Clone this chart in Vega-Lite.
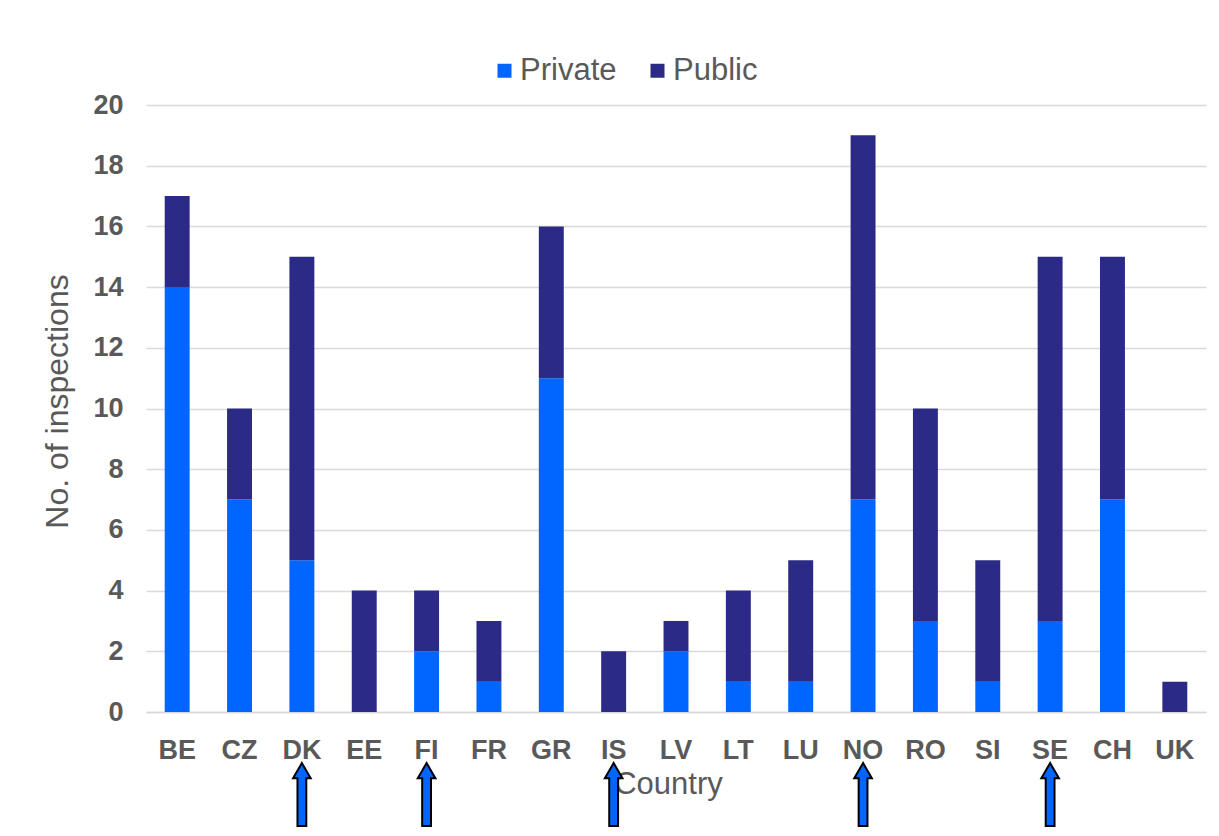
{
  "$schema": "https://vega.github.io/schema/vega-lite/v6.json",
  "width": 1060,
  "height": 607,
  "autosize": {"type": "none"},
  "padding": {"left": 146, "top": 105, "right": 13, "bottom": 124},
  "background": "white",
  "config": {
    "font": "Liberation Sans",
    "view": {"stroke": null}
  },
  "datasets": {
    "inspections": [
      {"Country": "BE", "Sector": "Private", "Inspections": 14},
      {"Country": "BE", "Sector": "Public", "Inspections": 3},
      {"Country": "CZ", "Sector": "Private", "Inspections": 7},
      {"Country": "CZ", "Sector": "Public", "Inspections": 3},
      {"Country": "DK", "Sector": "Private", "Inspections": 5},
      {"Country": "DK", "Sector": "Public", "Inspections": 10},
      {"Country": "EE", "Sector": "Private", "Inspections": 0},
      {"Country": "EE", "Sector": "Public", "Inspections": 4},
      {"Country": "FI", "Sector": "Private", "Inspections": 2},
      {"Country": "FI", "Sector": "Public", "Inspections": 2},
      {"Country": "FR", "Sector": "Private", "Inspections": 1},
      {"Country": "FR", "Sector": "Public", "Inspections": 2},
      {"Country": "GR", "Sector": "Private", "Inspections": 11},
      {"Country": "GR", "Sector": "Public", "Inspections": 5},
      {"Country": "IS", "Sector": "Private", "Inspections": 0},
      {"Country": "IS", "Sector": "Public", "Inspections": 2},
      {"Country": "LV", "Sector": "Private", "Inspections": 2},
      {"Country": "LV", "Sector": "Public", "Inspections": 1},
      {"Country": "LT", "Sector": "Private", "Inspections": 1},
      {"Country": "LT", "Sector": "Public", "Inspections": 3},
      {"Country": "LU", "Sector": "Private", "Inspections": 1},
      {"Country": "LU", "Sector": "Public", "Inspections": 4},
      {"Country": "NO", "Sector": "Private", "Inspections": 7},
      {"Country": "NO", "Sector": "Public", "Inspections": 12},
      {"Country": "RO", "Sector": "Private", "Inspections": 3},
      {"Country": "RO", "Sector": "Public", "Inspections": 7},
      {"Country": "SI", "Sector": "Private", "Inspections": 1},
      {"Country": "SI", "Sector": "Public", "Inspections": 4},
      {"Country": "SE", "Sector": "Private", "Inspections": 3},
      {"Country": "SE", "Sector": "Public", "Inspections": 12},
      {"Country": "CH", "Sector": "Private", "Inspections": 7},
      {"Country": "CH", "Sector": "Public", "Inspections": 8},
      {"Country": "UK", "Sector": "Private", "Inspections": 0},
      {"Country": "UK", "Sector": "Public", "Inspections": 1}
    ],
    "highlighted": [
      {"Country": "DK"},
      {"Country": "FI"},
      {"Country": "IS"},
      {"Country": "NO"},
      {"Country": "SE"}
    ]
  },
  "layer": [
    {
      "data": {"name": "inspections"},
      "mark": {"type": "bar"},
      "encoding": {
        "x": {
          "field": "Country",
          "type": "nominal",
          "scale": {
            "domain": ["BE", "CZ", "DK", "EE", "FI", "FR", "GR", "IS", "LV", "LT", "LU", "NO", "RO", "SI", "SE", "CH", "UK"],
            "paddingInner": 0.6,
            "paddingOuter": 0.3
          },
          "axis": {
            "title": "Country",
            "labelAngle": 0,
            "labelFont": "Liberation Sans",
            "labelFontSize": 27,
            "labelFontWeight": "bold",
            "labelColor": "#595959",
            "labelPadding": 25,
            "ticks": false,
            "tickSize": 0,
            "domainColor": "#D9D9D9",
            "domainWidth": 1.5,
            "titleFont": "Liberation Sans",
            "titleFontSize": 31,
            "titleFontWeight": "normal",
            "titleColor": "#595959",
            "titlePadding": 6,
            "titleX": 522
          }
        },
        "y": {
          "field": "Inspections",
          "type": "quantitative",
          "stack": "zero",
          "scale": {"domain": [0, 20], "nice": false},
          "axis": {
            "title": "No. of inspections",
            "values": [0, 2, 4, 6, 8, 10, 12, 14, 16, 18, 20],
            "labelFont": "Liberation Sans",
            "labelFontSize": 27,
            "labelFontWeight": "bold",
            "labelColor": "#595959",
            "labelPadding": 23,
            "ticks": false,
            "tickSize": 0,
            "domain": false,
            "gridColor": "#D9D9D9",
            "gridWidth": 1.5,
            "titleFont": "Liberation Sans",
            "titleFontSize": 32,
            "titleFontWeight": "normal",
            "titleColor": "#595959",
            "titlePadding": 18,
            "titleY": 296
          }
        },
        "color": {
          "field": "Sector",
          "type": "nominal",
          "scale": {"domain": ["Private", "Public"], "range": ["#0066FF", "#2B2A87"]},
          "legend": {
            "title": null,
            "orient": "none",
            "direction": "horizontal",
            "legendX": 343,
            "legendY": -50,
            "symbolType": "square",
            "symbolSize": 196,
            "symbolStrokeWidth": 0,
            "labelFont": "Liberation Sans",
            "labelFontSize": 31,
            "labelColor": "#595959",
            "labelOffset": 0,
            "columnPadding": 25
          }
        },
        "order": {"field": "Sector", "sort": "ascending"}
      }
    },
    {
      "data": {"name": "highlighted"},
      "mark": {
        "type": "point",
        "shape": "M -0.14 1 L 0.14 1 L 0.14 -0.52 L 0.28 -0.52 L 0 -1 L -0.28 -0.52 L -0.14 -0.52 Z",
        "filled": true,
        "fill": "#0066FF",
        "stroke": "#000000",
        "strokeWidth": 2,
        "opacity": 1,
        "size": 3969
      },
      "encoding": {
        "x": {"field": "Country", "type": "nominal"},
        "y": {"datum": -2.72, "type": "quantitative"}
      }
    }
  ]
}
